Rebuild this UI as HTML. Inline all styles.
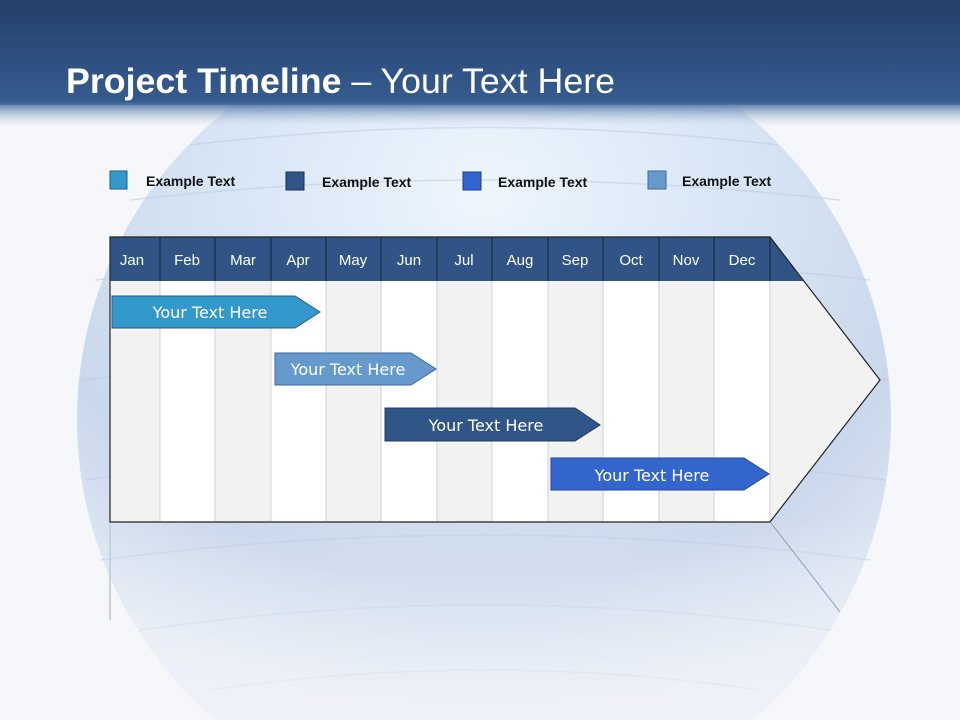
<!DOCTYPE html>
<html style="width:960px;height:720px;overflow:hidden"><head><meta charset="utf-8"><style>
html,body{margin:0;padding:0}
body{width:960px;height:720px;overflow:hidden;background:#f5f7fb;font-family:"Liberation Sans",sans-serif;position:relative}
svg{display:block;position:absolute;left:0;top:0;overflow:hidden}
</style></head><body>
<svg width="960" height="720" viewBox="0 0 960 720">
<defs>
<radialGradient id="sph" cx="0.5" cy="0.25" r="0.75">
<stop offset="0" stop-color="#eef6fd"/><stop offset="0.35" stop-color="#dbe8f7"/><stop offset="0.75" stop-color="#cad8ec"/><stop offset="1" stop-color="#e2e9f4"/>
</radialGradient>
<linearGradient id="top" x1="0" y1="0" x2="0" y2="1">
<stop offset="0" stop-color="#213a60"/><stop offset="0.78" stop-color="#3b659a"/><stop offset="1" stop-color="#f5f7fb" stop-opacity="0"/>
</linearGradient>
<linearGradient id="fade" x1="0" y1="0" x2="0" y2="1">
<stop offset="0" stop-color="#f5f7fb" stop-opacity="0"/><stop offset="1" stop-color="#f5f7fb" stop-opacity="0.7"/>
</linearGradient>
</defs>
<rect width="960" height="720" fill="#f5f7fb"/>
<path d="M215 720 A407 400 0 1 1 753 720 Z" fill="url(#sph)"/>
<g fill="none" stroke="#bccbe0" stroke-width="1.5" opacity="0.55">
<path d="M190 145 Q484 110 778 145"/>
<path d="M130 200 Q484 160 840 200"/>
<path d="M95 280 Q484 235 870 280"/>
<path d="M82 380 Q484 330 888 380"/>
<path d="M85 480 Q484 430 885 480"/>
<path d="M100 560 Q484 510 870 560"/>
<path d="M140 630 Q484 580 830 630"/>
<path d="M210 690 Q484 650 760 690"/>
</g>
<rect y="520" width="960" height="200" fill="url(#fade)"/>
<rect width="960" height="130" fill="url(#top)"/>
<rect width="960" height="105" fill="#2a4b7c" opacity="0.35"/>
<polygon points="110,237 770,237 880,380 770,522 110,522" fill="#f2f2f2"/>
<g fill="#fff">
<rect x="160" y="281" width="55" height="241"/><rect x="271" y="281" width="55" height="241"/><rect x="381" y="281" width="56" height="241"/><rect x="492" y="281" width="56" height="241"/><rect x="603" y="281" width="56" height="241"/><rect x="714" y="281" width="56" height="241"/>
</g>
<g stroke="#d0d0d0" stroke-width="1">
<line x1="160" y1="281" x2="160" y2="522"/><line x1="215" y1="281" x2="215" y2="522"/><line x1="271" y1="281" x2="271" y2="522"/><line x1="326" y1="281" x2="326" y2="522"/><line x1="381" y1="281" x2="381" y2="522"/><line x1="437" y1="281" x2="437" y2="522"/><line x1="492" y1="281" x2="492" y2="522"/><line x1="548" y1="281" x2="548" y2="522"/><line x1="603" y1="281" x2="603" y2="522"/><line x1="659" y1="281" x2="659" y2="522"/><line x1="714" y1="281" x2="714" y2="522"/><line x1="770" y1="281" x2="770" y2="522"/>
</g>
<polygon points="110,237 770,237 804,281 110,281" fill="#2f5485"/>
<g stroke="#1a2c48" stroke-width="1.2">
<line x1="160" y1="237" x2="160" y2="281"/><line x1="215" y1="237" x2="215" y2="281"/><line x1="271" y1="237" x2="271" y2="281"/><line x1="326" y1="237" x2="326" y2="281"/><line x1="381" y1="237" x2="381" y2="281"/><line x1="437" y1="237" x2="437" y2="281"/><line x1="492" y1="237" x2="492" y2="281"/><line x1="548" y1="237" x2="548" y2="281"/><line x1="603" y1="237" x2="603" y2="281"/><line x1="659" y1="237" x2="659" y2="281"/><line x1="714" y1="237" x2="714" y2="281"/><line x1="770" y1="237" x2="770" y2="281"/>
</g>
<polygon points="110,237 770,237 880,380 770,522 110,522" fill="none" stroke="#222" stroke-width="1.2"/>
<line x1="110" y1="524" x2="110" y2="620" stroke="#c8d0dc" stroke-width="2"/>
<line x1="771" y1="523" x2="840" y2="612" stroke="#8e9ab0" stroke-width="1"/>
<g fill="#fff" font-size="15" text-anchor="middle" font-family="Liberation Sans,sans-serif">
<text x="132" y="265">Jan</text><text x="187" y="265">Feb</text><text x="243" y="265">Mar</text><text x="298" y="265">Apr</text><text x="353" y="265">May</text><text x="409" y="265">Jun</text><text x="464" y="265">Jul</text><text x="520" y="265">Aug</text><text x="575" y="265">Sep</text><text x="631" y="265">Oct</text><text x="686" y="265">Nov</text><text x="742" y="265">Dec</text>
</g>
<polygon points="112,296 295,296 320,312 295,328 112,328" fill="#3399cc" stroke="#245d84"/>
<polygon points="275,353 411,353 436,369 411,385 275,385" fill="#6699cc" stroke="#3d6a9c"/>
<polygon points="385,408 575,408 600,425 575,441 385,441" fill="#2f5687" stroke="#213d62"/>
<polygon points="551,458 744,458 769,474 744,490 551,490" fill="#3366cc" stroke="#24489a"/>
<g fill="#fff" text-anchor="middle" font-family="DejaVu Sans,Liberation Sans,sans-serif" font-size="16">
<text x="210" y="318">Your  Text Here</text><text x="348" y="375">Your  Text Here</text><text x="486" y="431">Your  Text Here</text><text x="652" y="481">Your  Text Here</text>
</g>
<rect x="110" y="171" width="17" height="18" fill="#3399cc" stroke="#1f5d80"/>
<rect x="286" y="172" width="18" height="18" fill="#2f5687" stroke="#1a3050"/>
<rect x="463" y="172" width="18" height="18" fill="#3366cc" stroke="#1f3f80"/>
<rect x="648" y="171" width="18" height="18" fill="#6699cc" stroke="#3d6a9c"/>
<g font-size="14" font-weight="bold" fill="#111" font-family="Liberation Sans,sans-serif">
<text x="146" y="186">Example Text</text><text x="322" y="187">Example Text</text><text x="498" y="187">Example Text</text><text x="682" y="186">Example Text</text>
</g>
<text x="66" y="93" fill="#fff" font-size="35" font-family="Liberation Sans,sans-serif" textLength="549" lengthAdjust="spacingAndGlyphs"><tspan font-weight="bold">Project Timeline</tspan> – Your Text Here</text>
</svg>
</body></html>
